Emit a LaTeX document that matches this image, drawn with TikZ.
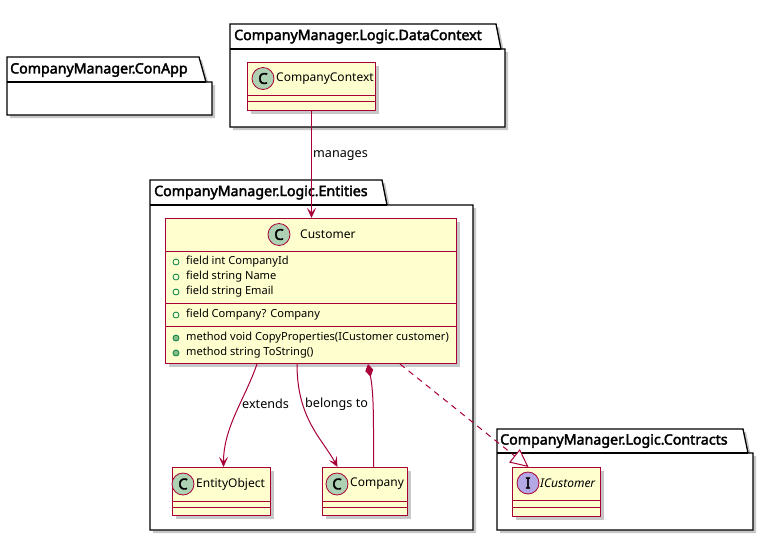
\documentclass[tikz,border=0pt]{standalone}
\usepackage{fontspec}
\setmainfont{Noto Sans}
\newfontfamily\bsans{Noto Sans}[FakeBold=2.6]
\usetikzlibrary{arrows.meta,shadows}
\definecolor{umlborder}{HTML}{A80036}
\definecolor{umlfill}{HTML}{FEFECE}
\definecolor{cgreen}{HTML}{ADD1B2}
\definecolor{ipurple}{HTML}{B4A7E5}
\definecolor{visgreen}{HTML}{038048}
\definecolor{visfill}{HTML}{84BE84}
\tikzset{
  shade3/.style={drop shadow={shadow xshift=3pt,shadow yshift=-3pt,fill=black,opacity=0.22}},
  pkgbox/.style={draw=black,line width=1.3pt,fill=white,shade3},
  pkgline/.style={draw=black,line width=1.3pt},
  pkgtitle/.style={anchor=west,inner sep=0pt,font=\fontsize{14.2}{16}\bsans},
  classbox/.style={draw=umlborder,fill=umlfill,line width=1pt,anchor=north west,inner sep=0pt,shade3},
  sepline/.style={draw=umlborder,line width=1pt},
  circC/.style={circle,draw=umlborder,line width=0.8pt,fill=cgreen,minimum size=22pt,inner sep=0pt,font=\fontsize{15}{15}\bsans},
  circI/.style={circC,fill=ipurple},
  cname/.style={anchor=west,inner sep=0pt,font=\fontsize{12}{14}\selectfont},
  fieldtxt/.style={anchor=west,inner sep=0pt,font=\fontsize{11.1}{13}\selectfont},
  visf/.style={circle,draw=visgreen,line width=0.8pt,fill=none,minimum size=6pt,inner sep=0pt},
  vism/.style={visf,fill=visfill},
  conn/.style={draw=umlborder,line width=1pt},
  assoc/.style={conn,-{Stealth[length=10pt,width=9pt,inset=4.5pt]}},
  comp/.style={conn,{Diamond[length=13pt,width=8pt,fill=umlborder]}-},
  realiz/.style={conn,dash pattern=on 6pt off 5pt,-{Triangle[open,length=18pt,width=17pt,fill=white]}},
  lbl/.style={anchor=west,inner sep=0pt,font=\fontsize{12.6}{14}\selectfont}
}
\begin{document}
\begin{tikzpicture}[x=1pt,y=-1pt]
\useasboundingbox (0,0) rectangle (772,542);
% ---------- packages ----------
\path[pkgbox] (7,57) -- (199,57) -- (206,82) -- (212,82) -- (212,115) -- (7,115) -- cycle;
\draw[pkgline] (7,82) -- (206,82);
\node[pkgtitle] (pConApp) at (10,70) {CompanyManager.ConApp};

\path[pkgbox] (230,24) -- (496,24) -- (501,49) -- (505,49) -- (505,127) -- (230,127) -- cycle;
\draw[pkgline] (230,49) -- (501,49);
\node[pkgtitle] (pData) at (234,36.5) {CompanyManager.Logic.DataContext};

\path[pkgbox] (150,180) -- (382,180) -- (387,205) -- (473,205) -- (473,530) -- (150,530) -- cycle;
\draw[pkgline] (150,205) -- (387,205);
\node[pkgtitle] (pEnt) at (154,192.5) {CompanyManager.Logic.Entities};

\path[pkgbox] (497,429) -- (743,429) -- (748,453) -- (753,453) -- (753,530) -- (497,530) -- cycle;
\draw[pkgline] (497,453) -- (748,453);
\node[pkgtitle] (pCon) at (500,441) {CompanyManager.Logic.Contracts};

% ---------- CompanyContext ----------
\node[classbox,minimum width=128pt,minimum height=48pt] (cc) at (247,62) {};
\draw[sepline] (247,95) -- (375,95);
\draw[sepline] (247,101) -- (375,101);
\node[circC] (ccC) at (263,78.5) {C};
\node[cname] (ccT) at (276,78.5) {CompanyContext};

% ---------- Customer ----------
\node[classbox,minimum width=291pt,minimum height=145pt] (cust) at (165,218) {};
\draw[sepline] (165,251) -- (456,251);
\draw[sepline] (165,303) -- (456,303);
\draw[sepline] (165,326) -- (456,326);
\node[circC] (custC) at (279,234.5) {C};
\node[cname] (custT) at (300,234.5) {Customer};
\node[visf] (v1) at (176,262) {};
\node[fieldtxt] (f1) at (186,262) {field int CompanyId};
\node[visf] (v2) at (176,277) {};
\node[fieldtxt] (f2) at (186,277) {field string Name};
\node[visf] (v3) at (176,292) {};
\node[fieldtxt] (f3) at (186,292) {field string Email};
\node[visf] (v4) at (176,315) {};
\node[fieldtxt] (f4) at (186,315) {field Company? Company};
\node[vism] (v5) at (176,338) {};
\node[fieldtxt] (f5) at (186,338) {method void CopyProperties(ICustomer customer)};
\node[vism] (v6) at (176,353) {};
\node[fieldtxt] (f6) at (186,353) {method string ToString()};

% ---------- EntityObject ----------
\node[classbox,minimum width=98pt,minimum height=48pt] (eo) at (172,467) {};
\draw[sepline] (172,501) -- (270,501);
\draw[sepline] (172,507) -- (270,507);
\node[circC] (eoC) at (183,484) {C};
\node[cname] (eoT) at (196,484) {EntityObject};

% ---------- Company ----------
\node[classbox,minimum width=85pt,minimum height=48pt] (co) at (322,467) {};
\draw[sepline] (322,501) -- (407,501);
\draw[sepline] (322,507) -- (407,507);
\node[circC] (coC) at (337,484) {C};
\node[cname] (coT) at (350,484) {Company};

% ---------- ICustomer ----------
\node[classbox,minimum width=88pt,minimum height=49pt] (ic) at (512,467) {};
\draw[sepline] (512,500) -- (600,500);
\draw[sepline] (512,507) -- (600,507);
\node[circI] (icC) at (528,483) {I};
\node[cname,font=\fontsize{12}{14}\selectfont\itshape] (icT) at (540,483) {ICustomer};

% ---------- connectors ----------
\draw[assoc] (cc.south) -- (cc.south |- cust.north);
\node[lbl] (lmanages) at (313,156) {manages};

\draw[assoc] ([xshift=92pt]cust.south west) .. controls +(-12,35) and +(0,-40) .. ([xshift=2pt]eo.north);
\node[lbl] (lext) at (242,404) {extends};

\draw[assoc] ([xshift=132pt]cust.south west) .. controls +(0,55) and +(-15,-28) .. ([xshift=-27.5pt]co.north);
\node[lbl] (lbel) at (305,404) {belongs to};

\draw[comp] ([xshift=203pt]cust.south west) .. controls +(6,30) and +(0,-45) .. ([xshift=8.5pt]co.north);

\draw[realiz] ([xshift=235pt]cust.south west) -- ([xshift=-28pt]ic.north);
\end{tikzpicture}
\end{document}
